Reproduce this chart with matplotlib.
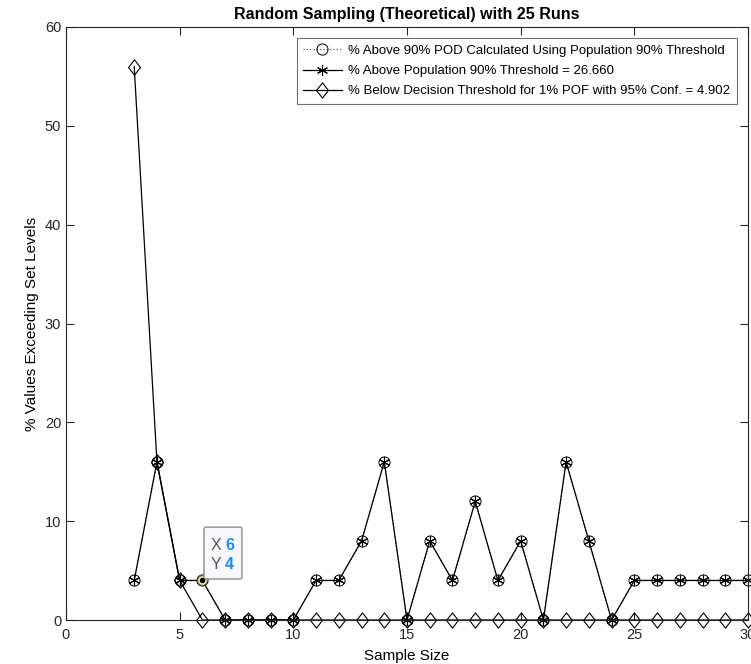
import numpy as np
import matplotlib
matplotlib.use("Agg")
import matplotlib.pyplot as plt
from matplotlib.path import Path
from matplotlib.patches import FancyBboxPatch

plt.rcParams['font.family'] = ['Liberation Sans', 'DejaVu Sans']

# Data
sample_size = np.arange(3, 31)
pod_above = [4, 16, 4, 4, 0, 0, 0, 0, 4, 4, 8, 16, 0, 8, 4, 12, 4, 8, 0, 16, 8, 0,
             4, 4, 4, 4, 4, 4]
pop_above = [4, 16, 4, 4, 0, 0, 0, 0, 4, 4, 8, 16, 0, 8, 4, 12, 4, 8, 0, 16, 8, 0,
             4, 4, 4, 4, 4, 4]
below_dec = [56, 16, 4] + [0] * 25

pop_thr = 26.660
dec_thr = 4.902

tip_x, tip_y = 6, 4

# MATLAB-like tall diamond
diamond = Path([(0, 1), (0.78, 0), (0, -1), (-0.78, 0), (0, 1)],
               [Path.MOVETO, Path.LINETO, Path.LINETO, Path.LINETO, Path.CLOSEPOLY])

fig = plt.figure(figsize=(7.51, 6.64), dpi=100)
ax = fig.add_axes([66 / 751, 44 / 664, 682 / 751, 593 / 664])

ax.plot(sample_size, pod_above, ':', color='0.35', lw=0.9, marker='o', ms=8,
        mfc='none', mec='black', mew=0.7, clip_on=False,
        label='% Above 90% POD Calculated Using Population 90% Threshold')
ax.plot(sample_size, pop_above, '-', color='black', lw=0.9, marker=(6, 2, 0), ms=8,
        mew=0.8, clip_on=False,
        label=f'% Above Population 90% Threshold = {pop_thr:.3f}')
ax.plot(sample_size, below_dec, '-', color='black', lw=0.9, marker=diamond, ms=11,
        mfc='none', mec='black', mew=0.8, clip_on=False,
        label=f'% Below Decision Threshold for 1% POF with 95% Conf. = {dec_thr:.3f}')

# data tip
ax.plot([tip_x], [tip_y], 'o', ms=7, mfc='#f8f4c0', mec='#6b6b30', mew=0.8, zorder=5)
ax.plot([tip_x], [tip_y], 'o', ms=3, color='black', zorder=6)
box = FancyBboxPatch((6.07, 4.15), 1.67, 5.25, boxstyle='round,pad=0,rounding_size=0.1',
                     fc='#f8f8fc', ec='0.5', lw=0.9, zorder=7,
                     mutation_aspect=2.0)
ax.add_patch(box)
ax.text(6.35, 7.55, 'X', color='0.35', fontsize=11.5, va='center', zorder=8)
ax.text(7.0, 7.55, str(tip_x), color='#1a8cff', fontsize=11.5, fontweight='bold',
        va='center', zorder=8)
ax.text(6.35, 5.65, 'Y', color='0.35', fontsize=11.5, va='center', zorder=8)
ax.text(7.0, 5.65, str(tip_y), color='#1a8cff', fontsize=11.5, fontweight='bold',
        va='center', zorder=8)

ax.set_xlim(0, 30)
ax.set_ylim(0, 60)
ax.set_xticks(np.arange(0, 31, 5))
ax.set_yticks(np.arange(0, 61, 10))
ax.tick_params(direction='in', top=True, right=True, labelsize=10.5, colors='0.15',
               length=6)
ax.tick_params(axis='x', pad=6)
for s in ax.spines.values():
    s.set_linewidth(0.8)
    s.set_color('0.15')

ax.set_title('Random Sampling (Theoretical) with 25 Runs', fontsize=11.5,
             fontweight='bold', pad=6)
ax.set_xlabel('Sample Size', fontsize=11, labelpad=5)
ax.set_ylabel('% Values Exceeding Set Levels', fontsize=11, labelpad=4)

leg = ax.legend(loc='upper right', fontsize=9.5, frameon=True, fancybox=False,
                edgecolor='0.3', handlelength=2.9, borderaxespad=0.85,
                borderpad=0.5, labelspacing=0.6, handletextpad=0.5)
leg.get_frame().set_linewidth(0.8)

fig.savefig('out.png', dpi=100)
